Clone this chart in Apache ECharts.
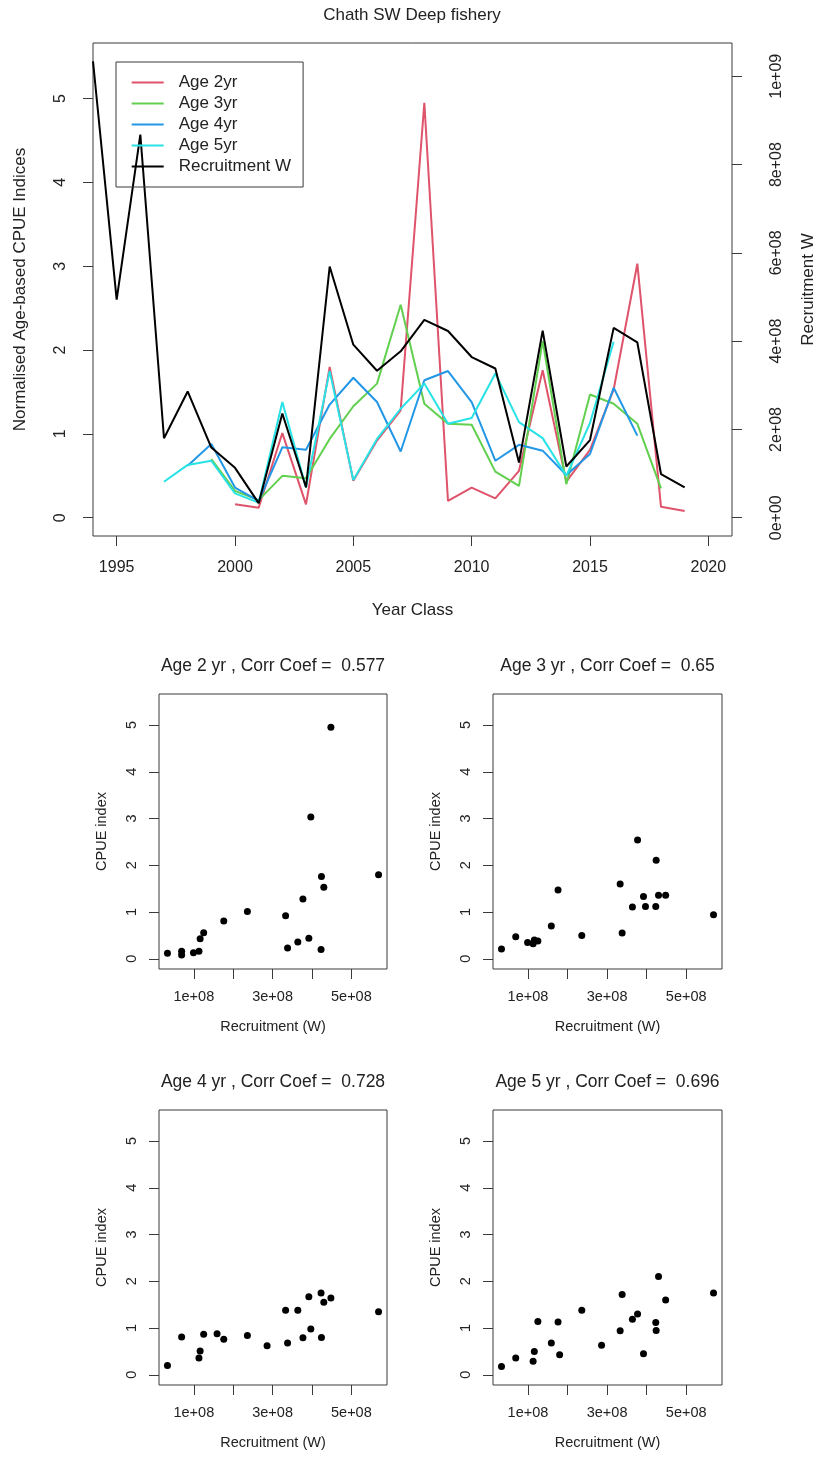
<!DOCTYPE html>
<html>
<head>
<meta charset="utf-8">
<script src="https://cdn.jsdelivr.net/npm/echarts@6/dist/echarts.min.js"></script>
<style>
  html, body { margin: 0; padding: 0; background: #fff; }
  #chart { width: 813px; height: 1457px; }
</style>
</head>
<body>
<div id="chart"></div>
<script>
// Year classes and recruitment (W) estimates
const yearClass = [1994, 1995, 1996, 1997, 1998, 1999, 2000, 2001, 2002, 2003, 2004, 2005, 2006,
                   2007, 2008, 2009, 2010, 2011, 2012, 2013, 2014, 2015, 2016, 2017, 2018, 2019];
const recruitW = [10.34e8, 4.94e8, 8.68e8, 1.80e8, 2.86e8, 1.59e8, 1.13e8, 0.33e8, 2.36e8, 0.69e8,
                  5.69e8, 3.92e8, 3.33e8, 3.77e8, 4.48e8, 4.23e8, 3.64e8, 3.38e8, 1.25e8, 4.24e8,
                  1.16e8, 1.76e8, 4.30e8, 3.97e8, 0.99e8, 0.69e8];

// Normalised age-based CPUE indices by year class (null = not observed)
const age2Index = [null, null, null, null, null, null,
                   0.16, 0.12, 1.01, 0.16, 1.80, 0.44, 0.92, 1.28, 4.95, 0.20,
                   0.36, 0.23, 0.56, 1.76, 0.43, 0.81, 1.53, 3.03, 0.13, 0.08];
const age3Index = [null, null, null, null, null,
                   0.70, 0.32, 0.21, 0.50, 0.47, 0.94, 1.33, 1.60, 2.54, 1.36,
                   1.12, 1.11, 0.55, 0.38, 2.11, 0.40, 1.47, 1.36, 1.12, 0.35, null];
const age4Index = [null, null, null, null,
                   0.62, 0.88, 0.36, 0.20, 0.84, 0.81, 1.35, 1.67, 1.38, 0.79,
                   1.64, 1.75, 1.38, 0.68, 0.87, 0.80, 0.51, 0.76, 1.55, 0.98, null, null];
const age5Index = [null, null, null,
                   0.43, 0.63, 0.68, 0.29, 0.18, 1.38, 0.36, 1.75, 0.45, 0.94,
                   1.30, 1.60, 1.12, 1.19, 1.72, 1.14, 0.95, 0.50, 1.13, 2.10, null, null, null];

const ages = [2, 3, 4, 5];
const corrCoef = [0.577, 0.65, 0.728, 0.696];

// Tick positions
const yearTicks = [1995, 2000, 2005, 2010, 2015, 2020];
const cpueTicks = [0, 1, 2, 3, 4, 5];
const recruitTicks = [0, 2e8, 4e8, 6e8, 8e8, 1e9];
const scatterXTicks = [1e8, 2e8, 3e8, 4e8, 5e8];
const scatterXLabels = [1e8, 3e8, 5e8];

const FONT = '"Liberation Sans", Arial, Helvetica, sans-serif';
const INK = '#222';
const RULE = '#3a3a3a';
const COLORS = ['#DF536B', '#61D04F', '#2297E6', '#28E2E5', '#000000'];

// R-style scientific labels, e.g. 2e+08
function sci(v) {
  if (v === 0) return '0e+00';
  const e = Math.floor(Math.log10(v) + 1e-9);
  const m = Math.round(v / Math.pow(10, e) * 100) / 100;
  return m + 'e+' + String(e).padStart(2, '0');
}

// R default axis extension (4% either side)
function padRange(lo, hi) {
  const d = (hi - lo) * 0.04;
  return [lo - d, hi + d];
}

const cpueRange = padRange(0, 5.445);
const recruitRange = padRange(0, 10.34e8);

function valueAxis(o) {
  return {
    type: 'value',
    gridIndex: o.grid,
    position: o.position,
    min: o.min,
    max: o.max,
    splitLine: { show: false },
    axisLine: { show: false, onZero: false },
    axisTick: { show: true, length: 10, customValues: o.ticks, lineStyle: { color: RULE, width: 1 } },
    axisLabel: {
      customValues: o.labels || o.ticks,
      formatter: o.formatter || (v => String(v)),
      rotate: o.rotate || 0,
      margin: o.margin,
      fontSize: o.fontSize,
      color: INK,
      fontFamily: FONT
    },
    name: o.name,
    nameLocation: 'middle',
    nameGap: o.nameGap,
    nameRotate: o.nameRotate,
    nameTextStyle: { fontSize: o.nameSize, color: INK, fontFamily: FONT }
  };
}

const scatterGrids = [
  { left: 159, top: 694, width: 228, height: 275 },
  { left: 493, top: 694, width: 229, height: 275 },
  { left: 159, top: 1110, width: 228, height: 275 },
  { left: 493, top: 1110, width: 229, height: 275 }
];

const gridBase = { show: true, borderColor: RULE, borderWidth: 1, backgroundColor: 'transparent',
                   containLabel: false, outerBoundsMode: 'none' };

const grids = [Object.assign({ left: 93, top: 43, width: 639, height: 493 }, gridBase)]
  .concat(scatterGrids.map(g => Object.assign({}, g, gridBase)));

const xAxes = [valueAxis({
  grid: 0, position: 'bottom', min: 1994, max: 2021, ticks: yearTicks,
  margin: 24, fontSize: 16, name: 'Year Class', nameGap: 66, nameSize: 17
})];
const yAxes = [
  valueAxis({
    grid: 0, position: 'left', min: cpueRange[0], max: cpueRange[1], ticks: cpueTicks,
    rotate: 90, margin: 24, fontSize: 16,
    name: 'Normalised Age-based CPUE Indices', nameGap: 64, nameRotate: 90, nameSize: 17
  }),
  valueAxis({
    grid: 0, position: 'right', min: recruitRange[0], max: recruitRange[1], ticks: recruitTicks,
    formatter: sci, rotate: 90, margin: 37, fontSize: 16,
    name: 'Recruitment W', nameGap: 68, nameRotate: 90, nameSize: 17
  })
];

const ageSeries = [age2Index, age3Index, age4Index, age5Index];
const titles = [{
  text: 'Chath SW Deep fishery', left: 412, top: 7, textAlign: 'center', padding: 0,
  textStyle: { fontSize: 17, fontWeight: 'normal', color: INK, fontFamily: FONT }
}];

const series = [];
const legendNames = ['Age 2yr', 'Age 3yr', 'Age 4yr', 'Age 5yr', 'Recruitment W'];

ageSeries.forEach((arr, k) => {
  series.push({
    name: legendNames[k], type: 'line', xAxisIndex: 0, yAxisIndex: 0,
    data: yearClass.map((y, i) => arr[i] == null ? null : [y, arr[i]]).filter(Boolean),
    symbol: 'none', lineStyle: { width: 2, color: COLORS[k] }, itemStyle: { color: COLORS[k] },
    silent: true, z: 2
  });
});
series.push({
  name: 'Recruitment W', type: 'line', xAxisIndex: 0, yAxisIndex: 1,
  data: yearClass.map((y, i) => [y, recruitW[i]]),
  symbol: 'none', lineStyle: { width: 2, color: COLORS[4] }, itemStyle: { color: COLORS[4] },
  silent: true, z: 3
});

// Scatter panels: CPUE index against recruitment for each age
ageSeries.forEach((arr, k) => {
  const pts = yearClass.map((y, i) => arr[i] == null ? null : [recruitW[i], arr[i]]).filter(Boolean);
  const xs = pts.map(p => p[0]);
  const xr = padRange(Math.min.apply(null, xs), Math.max.apply(null, xs));
  const g = scatterGrids[k];
  xAxes.push(valueAxis({
    grid: k + 1, position: 'bottom', min: xr[0], max: xr[1], ticks: scatterXTicks,
    labels: scatterXLabels, formatter: sci, margin: 20, fontSize: 14.5,
    name: 'Recruitment (W)', nameGap: 50, nameSize: 14.5
  }));
  yAxes.push(valueAxis({
    grid: k + 1, position: 'left', min: cpueRange[0], max: cpueRange[1], ticks: cpueTicks,
    rotate: 90, margin: 20, fontSize: 14.5,
    name: 'CPUE index', nameGap: 50, nameRotate: 90, nameSize: 14.5
  }));
  titles.push({
    text: 'Age ' + ages[k] + ' yr , Corr Coef =  ' + corrCoef[k],
    left: g.left + g.width / 2, top: g.top - 37, textAlign: 'center', padding: 0,
    textStyle: { fontSize: 17.5, fontWeight: 'normal', color: INK, fontFamily: FONT }
  });
  series.push({
    type: 'scatter', xAxisIndex: k + 1, yAxisIndex: k + 2, data: pts,
    symbol: 'circle', symbolSize: 7, itemStyle: { color: '#000', opacity: 1 }, silent: true
  });
});

const chart = echarts.init(document.getElementById('chart'), null, { renderer: 'canvas' });
chart.setOption({
  animation: false,
  backgroundColor: '#fff',
  title: titles,
  legend: {
    data: legendNames.map((n, k) => ({ name: n, itemStyle: { color: COLORS[k] } })),
    left: 116, top: 62, orient: 'vertical', selectedMode: false,
    padding: [10, 12, 10, 15.7], itemGap: 0, itemWidth: 32, itemHeight: 2, icon: 'rect',
    borderColor: RULE, borderWidth: 1, backgroundColor: 'transparent',
    textStyle: { fontSize: 17, lineHeight: 21, color: INK, fontFamily: FONT, padding: [0, 0, 0, 10] }
  },
  grid: grids,
  xAxis: xAxes,
  yAxis: yAxes,
  series: series
});
</script>
</body>
</html>
